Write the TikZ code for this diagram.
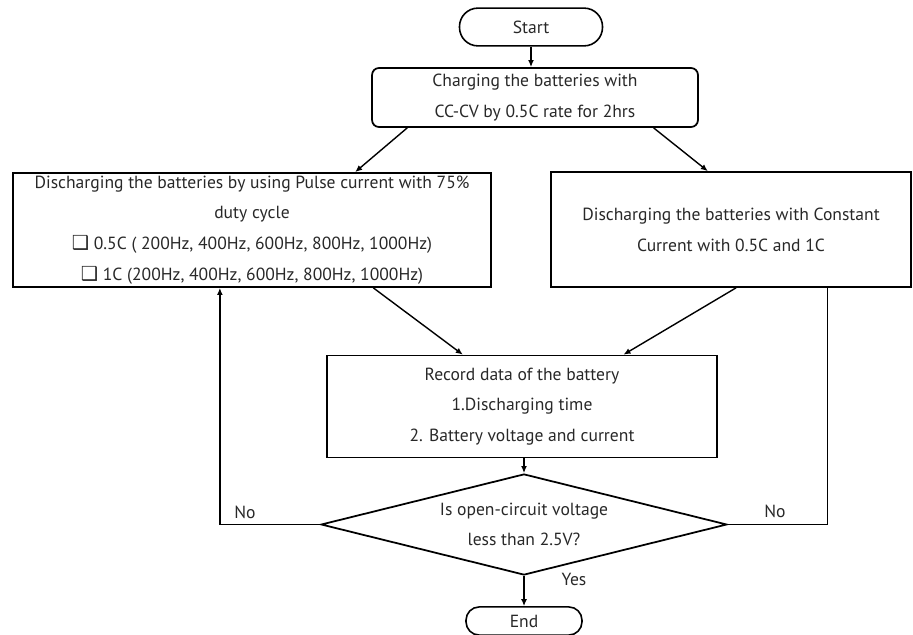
\documentclass[tikz,border=0pt]{standalone}
\usepackage{fontspec}
\usepackage{tikz}
\setmainfont{PT Sans}
\newfontfamily\boxfont{DejaVu Sans}
\usetikzlibrary{positioning, arrows.meta, calc, shapes.geometric}
\definecolor{textgray}{RGB}{40,40,40}
\newcommand{\tickbox}{{\boxfont\fontsize{11}{11}\selectfont ❑}}

\begin{document}
\begin{tikzpicture}[x=0.02cm, y=-0.02cm, font=\fontsize{10}{17.5}\selectfont,
    every node/.style={text=textgray, align=center},
    pill/.style={draw=black, line width=0.9pt, inner sep=0pt},
    box/.style={draw=black, line width=1pt, inner sep=0pt},
    flow/.style={-{Latex[length=4pt, width=3.4pt]}, line width=0.8pt}]
    \useasboundingbox (0,0) rectangle (913,635);

    \node[pill, rounded corners=10.5pt, minimum width=81.4pt, minimum height=21.5pt] (start) at (531,27) {Start};
    \node[box, rounded corners=4pt, minimum width=185.5pt, minimum height=33.6pt] (charge) at (535,97.5) {Charging the batteries with\\CC-CV by 0.5C rate for 2hrs};
    \node[box, minimum width=272pt, minimum height=64.9pt] (pulse) at (252,230) {Discharging the batteries by using Pulse current with 75\%\\duty cycle\\\tickbox\ 0.5C ( 200Hz, 400Hz, 600Hz, 800Hz, 1000Hz)\\\tickbox\ 1C (200Hz, 400Hz, 600Hz, 800Hz, 1000Hz)};
    \node[box, minimum width=204.9pt, minimum height=65.4pt] (const) at (731,229.5) {Discharging the batteries with Constant\\Current with 0.5C and 1C};
    \node[box, minimum width=222pt, minimum height=58pt] (record) at (522,406.5) {Record data of the battery\\1.Discharging time\\2. Battery voltage and current};
    \node[diamond, draw=black, line width=1pt, inner sep=0pt, aspect=4, minimum width=231pt, minimum height=57.5pt] (check) at (524,524.5) {Is open-circuit voltage\\less than 2.5V?};
    \node[pill, rounded corners=7.5pt, minimum width=66pt, minimum height=16pt] (end) at (524,621) {End};

    \node (nol) at (245,512) {No};
    \node (nor) at (775,511) {No};
    \node (yes) at (574,579) {Yes};

    \draw[flow] (start.south) -- (start.south |- charge.north);
    \draw[flow] ($(charge.south west)!0.11!(charge.south east)$) -- ($(pulse.north west)!0.715!(pulse.north east)$);
    \draw[flow] ($(charge.south west)!0.862!(charge.south east)$) -- ($(const.north west)!0.436!(const.north east)$);
    \draw[flow] ($(pulse.south west)!0.753!(pulse.south east)$) -- ($(record.north west)!0.349!(record.north east)$);
    \draw[flow] ($(const.south west)!0.514!(const.south east)$) -- ($(record.north west)!0.759!(record.north east)$);
    \draw[flow] (check.north |- record.south) -- (check.north);
    \draw[flow] (check.south) -- (end.north);
    \draw[flow] (check.west) -| ($(pulse.south west)!0.433!(pulse.south east)$);
    \draw[line width=0.8pt] (check.east) -| ($(const.south west)!0.767!(const.south east)$);
\end{tikzpicture}
\end{document}
